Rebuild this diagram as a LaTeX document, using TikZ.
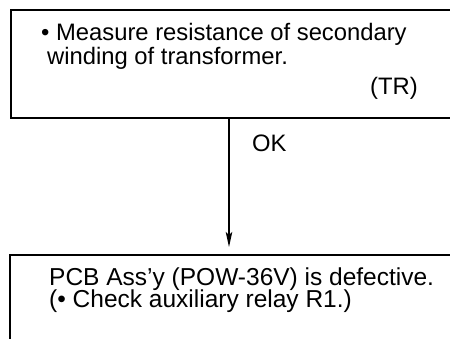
\documentclass[tikz,border=0pt]{standalone}
\usepackage{fontspec}
\setmainfont{Liberation Sans}
\usetikzlibrary{arrows.meta}
\tikzset{
	box/.style={draw, line width=1.8pt, rectangle, minimum width=470pt, anchor=north west, inner sep=0pt},
	txt/.style={inner sep=0pt, align=left, font=\fontsize{23.8}{24}\selectfont}
}
\begin{document}
\begin{tikzpicture}[x=1pt, y=-1pt, >={Stealth[length=15pt, width=6.5pt, inset=3pt]}]
		\useasboundingbox (0,0) rectangle (450,339);
		\clip (0,0) rectangle (450,339);
		\node[box, minimum height=108pt] (check) at (10,9) {};
		\node[box, minimum height=110pt] (result) at (9,254) {};
		% multi-line nodes sit on their last baseline
		\node[txt, anchor=base west] (checktext) at (41,65) {• Measure resistance of secondary\\\hspace*{6pt}winding of transformer.};
		\node[txt, anchor=base east] (tr) at (418,95) {(TR)};
		\node[txt, anchor=base west] (ok) at (252,152) {OK};
		\node[txt, anchor=base west, font=\fontsize{24.5}{23}\selectfont] (resulttext) at (49,308) {PCB Ass'y (POW-36V) is defective.\\(• Check auxiliary relay R1.)};
		\coordinate (tip) at (229,247);
		\draw[->, line width=1.2pt] (check.south -| tip) -- (tip);
	\end{tikzpicture}
\end{document}
